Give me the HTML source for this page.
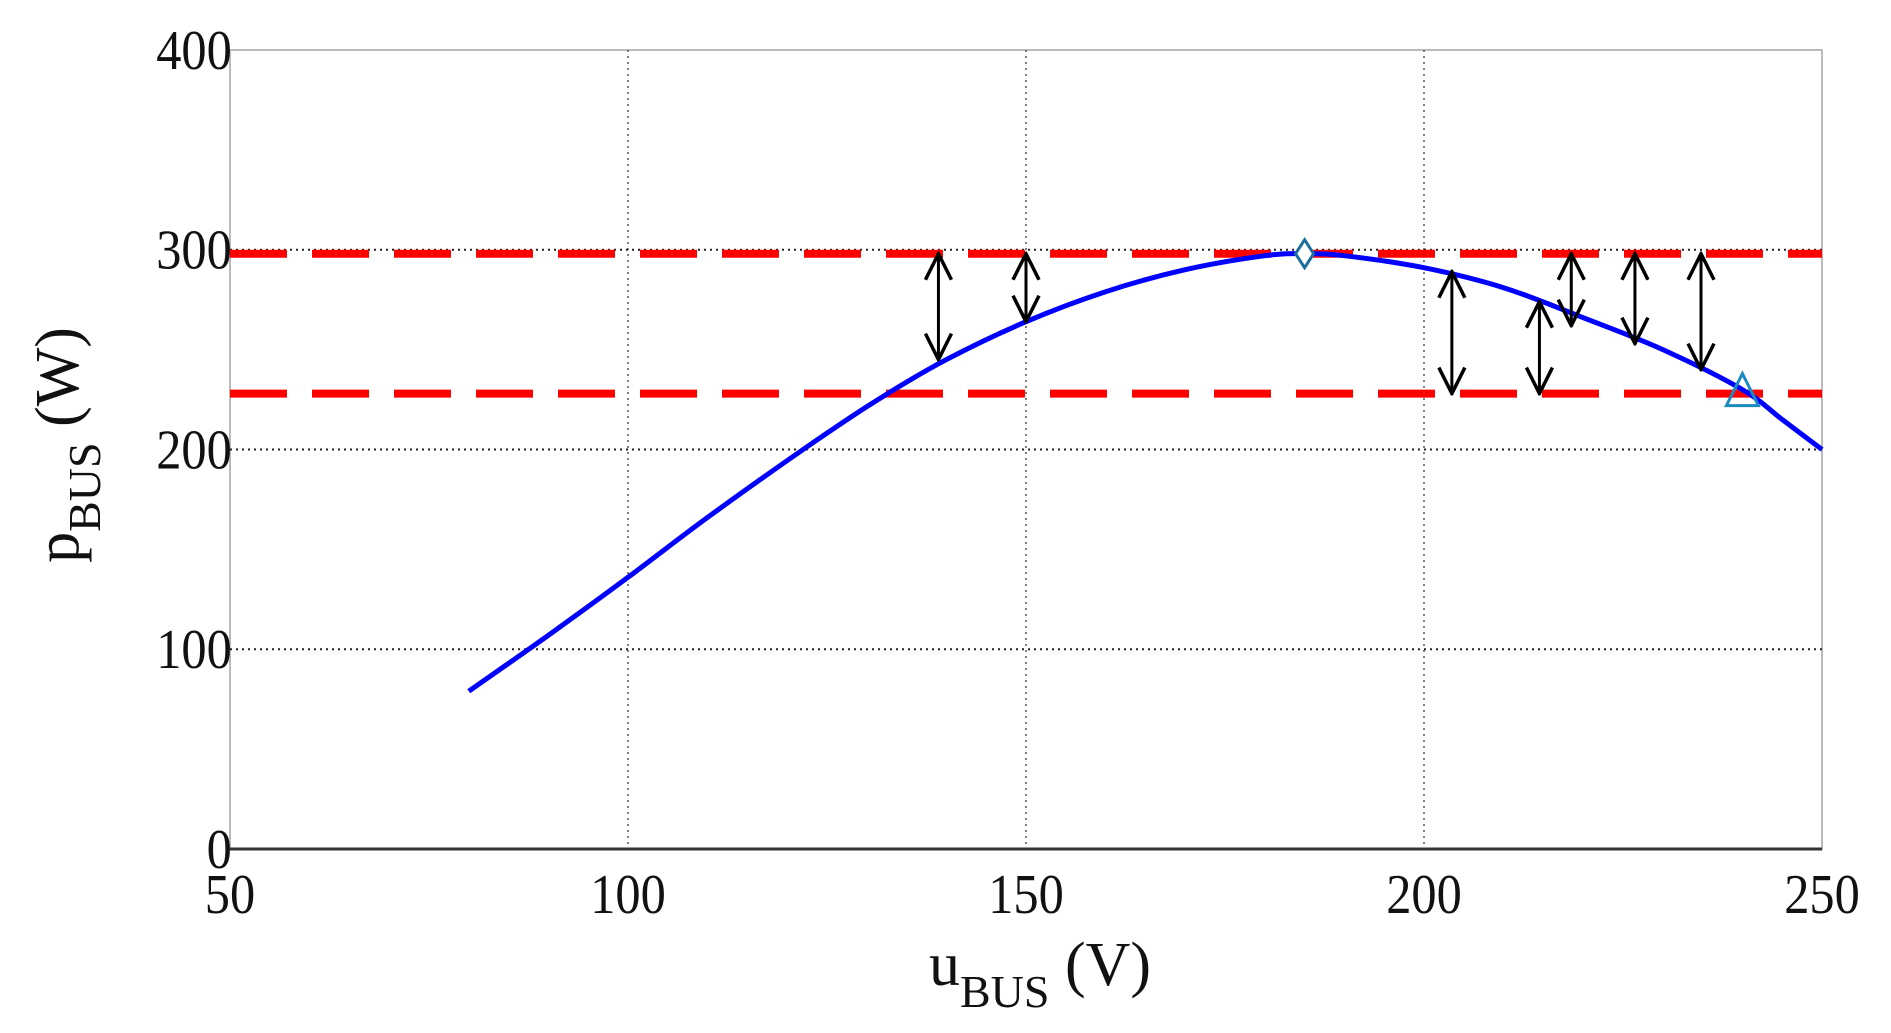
<!DOCTYPE html>
<html><head><meta charset="utf-8"><style>
html,body{margin:0;padding:0;background:#fff;}
svg{display:block;}
text{font-family:"Liberation Serif",serif;fill:#111;}
</style></head><body>
<svg id="chart" width="1891" height="1033">
<defs>
<marker id="ah" viewBox="0 0 30 30" refX="28" refY="15" markerWidth="30" markerHeight="30" markerUnits="userSpaceOnUse" orient="auto-start-reverse">
<path d="M2,2 L28,15 L2,28" fill="none" stroke="#000" stroke-width="3.5"/>
</marker>
</defs>
<g id="grid"></g><g id="axes"></g><g id="marks"></g>
</svg>
<script>
const xTicks=[50,100,150,200,250];
const yTicks=[0,100,200,300,400];
const curveU=[80,90,100,110,122,131,140,150,160,170,180,185,190,200,210,220,230,240,245,250];
const curveP=[79,107,136,166,200,224,245,264,279,290,297,298,297,291,281,266,250,230,215,200];
const refLevels=[298,228];
const arrowU=[139,150,203.5,214.5,218.5,226.5,234.8];
const arrowFrom=[298,298,289,274,298,298,298];
const arrowTo=[245,264,228,228,262,253,240];
const diamondPt=[185,298];
const trianglePt=[240,228];

const X0=230,X1=1822,Y0=849,Y1=50;
const sx=u=>X0+(u-50)/200*(X1-X0);
const sy=p=>Y0-p/400*(Y0-Y1);
const NS="http://www.w3.org/2000/svg";
function mk(tag,attrs,parent){const e=document.createElementNS(NS,tag);for(const k in attrs)e.setAttribute(k,attrs[k]);parent.appendChild(e);return e;}
const grid=document.getElementById('grid'),axes=document.getElementById('axes'),marks=document.getElementById('marks');

let fr=mk('rect',{x:X0,y:Y1,width:X1-X0,height:Y0-Y1,fill:'none',stroke:'#bbb','stroke-width':2},grid);


xTicks.slice(1,-1).forEach(u=>{
  const l=mk('line',{x1:sx(u),x2:sx(u),y1:Y1,y2:Y0,stroke:'#555','stroke-width':1.5,'stroke-dasharray':'2 4'},grid);
  
  
});
yTicks.slice(1,-1).forEach(p=>{
  const l=mk('line',{x1:X0,x2:X1,y1:sy(p),y2:sy(p),stroke:'#222','stroke-width':2,'stroke-dasharray':'2 4'},grid);
  
  
});
let xa=mk('line',{x1:X0,x2:X1,y1:Y0,y2:Y0,stroke:'#333','stroke-width':3},axes);


xTicks.forEach(u=>{
  const t=mk('text',{x:sx(u),y:Y0+64,'text-anchor':'middle','font-size':56,transform:`translate(${sx(u)},0) scale(0.9,1) translate(${-sx(u)},0)`},axes);t.textContent=u;
  
  
});
yTicks.forEach(p=>{
  const t=mk('text',{x:X0+2,y:sy(p)+19,'text-anchor':'end','font-size':56,transform:`translate(${X0},0) scale(0.9,1) translate(${-X0},0)`},axes);t.textContent=p;
  
  
});
let xt=mk('text',{x:1040,y:985,'text-anchor':'middle','font-size':62},axes);
xt.innerHTML='u<tspan font-size="46" dy="22">BUS</tspan><tspan dy="-22"> (V)</tspan>';


let yt=mk('text',{x:0,y:0,'text-anchor':'middle','font-size':62,transform:'translate(78,445) rotate(-90)'},axes);
yt.innerHTML='p<tspan font-size="46" dy="22">BUS</tspan><tspan dy="-22"> (W)</tspan>';



refLevels.forEach(p=>{
  const l=mk('line',{x1:X0,x2:X1,y1:sy(p),y2:sy(p),stroke:'#f00','stroke-width':8,'stroke-dasharray':'57 25'},marks);
  
  
});
const pts=curveU.map((u,i)=>[sx(u),sy(curveP[i])]);
let d='M'+pts[0][0].toFixed(1)+','+pts[0][1].toFixed(1);
for(let i=0;i<pts.length-1;i++){
  const p0=pts[Math.max(0,i-1)],p1=pts[i],p2=pts[i+1],p3=pts[Math.min(pts.length-1,i+2)];
  const c1=[p1[0]+(p2[0]-p0[0])/6,p1[1]+(p2[1]-p0[1])/6];
  const c2=[p2[0]-(p3[0]-p1[0])/6,p2[1]-(p3[1]-p1[1])/6];
  d+=` C${c1[0].toFixed(1)},${c1[1].toFixed(1)} ${c2[0].toFixed(1)},${c2[1].toFixed(1)} ${p2[0].toFixed(1)},${p2[1].toFixed(1)}`;
}
let cv=mk('path',{d:d,fill:'none',stroke:'#00f','stroke-width':5,'stroke-linejoin':'round'},marks);


arrowU.forEach((u,i)=>{
  const a=mk('line',{x1:sx(u),x2:sx(u),y1:sy(arrowFrom[i]),y2:sy(arrowTo[i]),stroke:'#000','stroke-width':3,'marker-start':'url(#ah)','marker-end':'url(#ah)'},marks);
  
  
});
{const cx=sx(diamondPt[0]),cy=sy(diamondPt[1]);
const m=mk('path',{d:`M${cx},${cy-14} L${cx+9},${cy} L${cx},${cy+14} L${cx-9},${cy} Z`,fill:'#fff',stroke:'#1a6fa0','stroke-width':3},marks);

}
{const cx=sx(trianglePt[0]),cy=sy(trianglePt[1]);
const m=mk('path',{d:`M${cx},${cy-20} L${cx+16},${cy+12} L${cx-16},${cy+12} Z`,fill:'none',stroke:'#1a8ac0','stroke-width':3},marks);

}
</script>
</body></html>
